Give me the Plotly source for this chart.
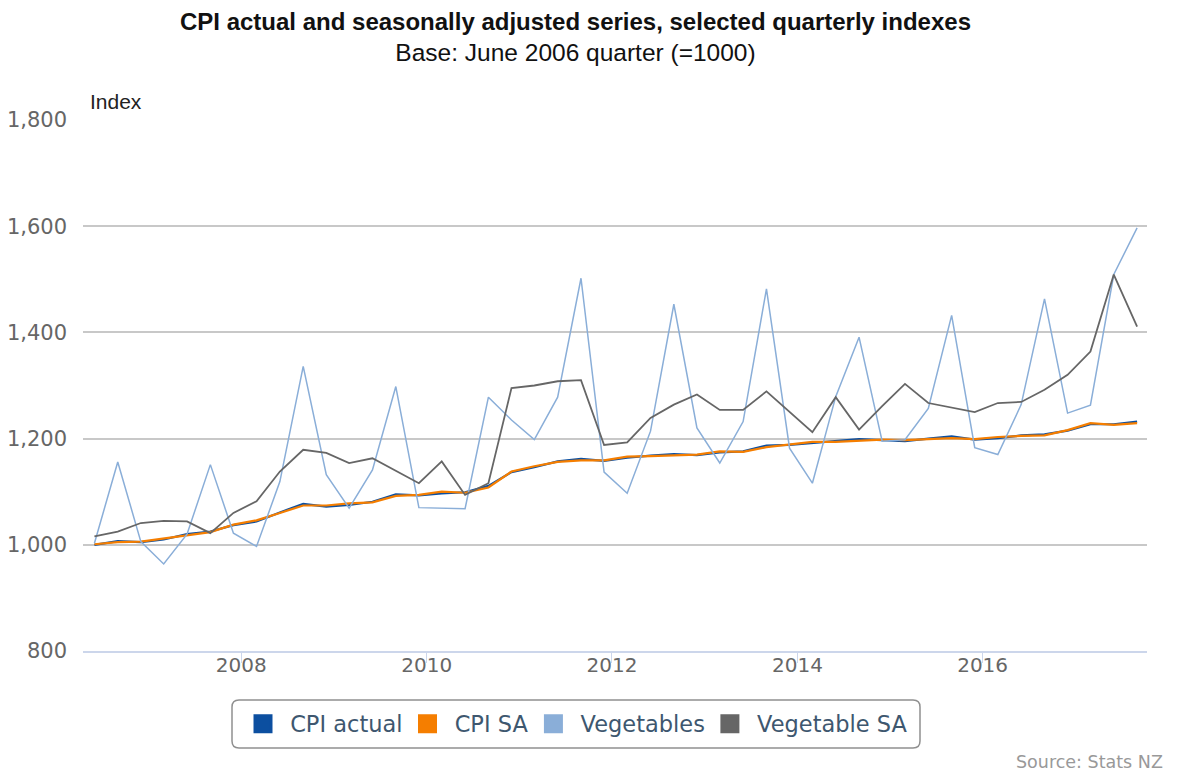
import plotly.graph_objects as go

# ---- data ----
quarters = [
    "2006-06-01", "2006-09-01", "2006-12-01",
    "2007-03-01", "2007-06-01", "2007-09-01", "2007-12-01",
    "2008-03-01", "2008-06-01", "2008-09-01", "2008-12-01",
    "2009-03-01", "2009-06-01", "2009-09-01", "2009-12-01",
    "2010-03-01", "2010-06-01", "2010-09-01", "2010-12-01",
    "2011-03-01", "2011-06-01", "2011-09-01", "2011-12-01",
    "2012-03-01", "2012-06-01", "2012-09-01", "2012-12-01",
    "2013-03-01", "2013-06-01", "2013-09-01", "2013-12-01",
    "2014-03-01", "2014-06-01", "2014-09-01", "2014-12-01",
    "2015-03-01", "2015-06-01", "2015-09-01", "2015-12-01",
    "2016-03-01", "2016-06-01", "2016-09-01", "2016-12-01",
    "2017-03-01", "2017-06-01", "2017-09-01",
]

cpi_actual = [1000, 1007, 1005, 1010, 1020, 1025, 1037, 1044, 1061, 1077, 1072,
              1075, 1081, 1095, 1093, 1097, 1099, 1111, 1137, 1146, 1157, 1162,
              1158, 1164, 1168, 1171, 1169, 1174, 1176, 1187, 1188, 1192, 1195,
              1199, 1197, 1195, 1200, 1204, 1198, 1201, 1206, 1208, 1215, 1227,
              1227, 1232]

cpi_sa = [1001, 1005, 1006, 1012, 1019, 1024, 1038, 1046, 1060, 1074, 1074,
          1078, 1080, 1092, 1094, 1100, 1098, 1108, 1138, 1148, 1156, 1159,
          1159, 1166, 1167, 1168, 1170, 1176, 1175, 1184, 1189, 1194, 1194,
          1196, 1198, 1197, 1199, 1201, 1199, 1203, 1205, 1206, 1216, 1229,
          1226, 1229]

vegetables = [1003, 1156, 1006, 964, 1020, 1151, 1022, 997, 1119, 1336, 1132,
              1069, 1141, 1298, 1070, 1069, 1068, 1278, 1235, 1198, 1278, 1502,
              1137, 1097, 1214, 1453, 1220, 1154, 1232, 1482, 1182, 1116, 1279,
              1391, 1195, 1198, 1257, 1432, 1183, 1170, 1264, 1463, 1248, 1263,
              1509, 1597]

vegetable_sa = [1016, 1025, 1041, 1045, 1044, 1022, 1060, 1082, 1138, 1179, 1173,
                1154, 1163, 1139, 1116, 1157, 1094, 1116, 1295, 1300, 1308, 1310,
                1188, 1193, 1239, 1264, 1283, 1254, 1254, 1289, 1251, 1212, 1278,
                1217, 1261, 1303, 1267, 1259, 1250, 1267, 1269, 1292, 1320, 1364,
                1509, 1411]

series_names = ["CPI actual", "CPI SA", "Vegetables", "Vegetable SA"]
series_values = [cpi_actual, cpi_sa, vegetables, vegetable_sa]
series_colors = ["#0c4fa0", "#f57e00", "#8aaed8", "#666666"]
series_widths = [2.2, 2.2, 1.5, 1.8]

y_ticks = [800, 1000, 1200, 1400, 1600, 1800]

# ---- figure ----
W, H = 1179, 774
ML, MR, MT, MB = 83, 32, 120, 123
PW, PH = W - ML - MR, H - MT - MB


def px_x(x):
    return (x - ML) / PW


def px_y(y):
    return (H - MB - y) / PH


fig = go.Figure()

for name, vals, col, w in zip(series_names, series_values, series_colors, series_widths):
    fig.add_trace(go.Scatter(
        x=quarters, y=vals, mode="lines", name=name,
        line=dict(color=col, width=w), showlegend=False, legendgroup=name,
    ))

for name, col in zip(series_names, series_colors):
    fig.add_trace(go.Scatter(
        x=[None], y=[None], mode="markers", name="\u00a0" + name, legendgroup=name,
        marker=dict(symbol="square", size=16, color=col, line=dict(color=col, width=3)),
        showlegend=True, hoverinfo="skip",
    ))

# rounded legend frame (decoration)
bx0, bx1, by0, by1 = px_x(232), px_x(920), px_y(748), px_y(700)
rx, ry = 7 / PW, 7 / PH
frame_path = (
    f"M {bx0 + rx} {by0} L {bx1 - rx} {by0} Q {bx1} {by0} {bx1} {by0 + ry} "
    f"L {bx1} {by1 - ry} Q {bx1} {by1} {bx1 - rx} {by1} "
    f"L {bx0 + rx} {by1} Q {bx0} {by1} {bx0} {by1 - ry} "
    f"L {bx0} {by0 + ry} Q {bx0} {by0} {bx0 + rx} {by0} Z"
)

fig.update_layout(
    width=W, height=H,
    margin=dict(l=ML, r=MR, t=MT, b=MB, autoexpand=False),
    paper_bgcolor="white", plot_bgcolor="white",
    title=dict(
        text="<b>CPI actual and seasonally adjusted series, selected quarterly indexes</b><br>"
             "<span style='font-size:24.5px'>Base: June 2006 quarter (=1000)</span>",
        font=dict(family="Liberation Sans, Arial, sans-serif", size=24, color="#111"),
        x=px_x(575.5), xref="paper", xanchor="center",
        y=1 - 30 / H, yref="container", yanchor="middle",
    ),
    xaxis=dict(
        type="date",
        range=["2006-04-17", "2017-10-10"],
        tick0="2008-01-01", dtick="M24", tickformat="%Y",
        showgrid=False, zeroline=False,
        showline=True, linecolor="#ccd6eb", linewidth=1.5,
        ticks="outside", ticklen=10, tickcolor="#ccd6eb", tickwidth=1,
        ticklabelstandoff=-15, automargin=False,
        tickfont=dict(family="DejaVu Sans, sans-serif", size=20, color="#666"),
    ),
    yaxis=dict(
        range=[800, 1800], tickvals=y_ticks, tickformat=",",
        showgrid=True, gridcolor="#c8c8c8", gridwidth=1.5,
        zeroline=False, showline=False, ticks="",
        ticklabelstandoff=15, automargin=False,
        tickfont=dict(family="DejaVu Sans, sans-serif", size=21, color="#666"),
    ),
    legend=dict(
        orientation="h", x=px_x(578), xanchor="center", y=px_y(724), yanchor="middle",
        font=dict(family="DejaVu Sans, sans-serif", size=22.5, color="#3E576F"),
        borderwidth=0, bgcolor="rgba(0,0,0,0)",
        itemclick=False, itemdoubleclick=False,
    ),
    shapes=[dict(type="path", xref="paper", yref="paper", path=frame_path,
                 line=dict(color="#909090", width=1.5), fillcolor="rgba(0,0,0,0)",
                 layer="below")],
    annotations=[
        dict(text="Index", xref="paper", yref="paper", x=px_x(88), y=px_y(101),
             xanchor="left", yanchor="middle", showarrow=False,
             font=dict(family="Liberation Sans, Arial, sans-serif", size=21, color="#222")),
        dict(text="Source: Stats NZ", xref="paper", yref="paper", x=px_x(1165), y=px_y(762),
             xanchor="right", yanchor="middle", showarrow=False,
             font=dict(family="DejaVu Sans, sans-serif", size=17.5, color="#999")),
    ],
)

fig.write_html("out.html", config={"displayModeBar": False},
               post_script="document.body.style.margin='0';")
